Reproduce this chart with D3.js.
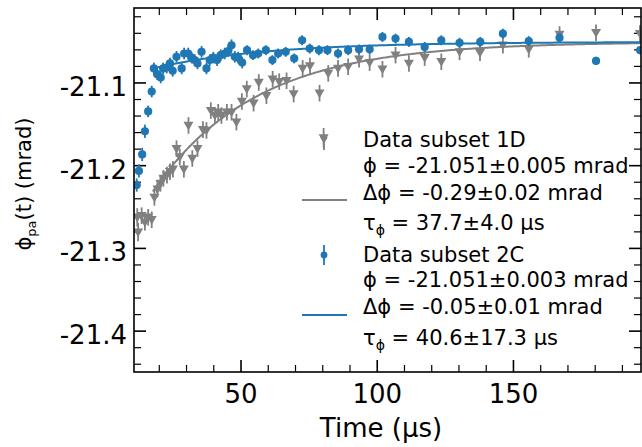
<!DOCTYPE html>
<html>
<head>
<meta charset="utf-8">
<script src="https://cdn.jsdelivr.net/npm/d3@7"></script>
<style>
  body { margin: 0; background: #fff; }
  svg { font-family: "DejaVu Sans", sans-serif; }
</style>
</head>
<body>
<div id="chart"></div>
<script>
// subset 1D (grey triangles)
var greyTime = [12.1, 12.4, 13.7, 14.9, 16.1, 17.4, 18.4, 19.5, 20.6, 21.7, 23.0, 24.1, 25.2,
  26.5, 27.7, 29.2, 30.9, 32.3, 34.2, 36.2, 37.5, 39.1, 40.6, 41.8, 43.0, 45.0, 46.7, 48.5,
  50.5, 52.3, 54.8, 56.7, 59.5, 61.8, 64.2, 66.9, 69.5, 72.8, 75.5, 79.0, 80.5, 82.2, 85.8,
  89.5, 93.5, 97.4, 102.1, 106.9, 111.8, 117.6, 123.7, 130.4, 137.9, 146.3, 155.8, 167.1,
  180.5, 196.6];
var greyPhase = [-21.263, -21.281, -21.261, -21.269, -21.263, -21.266, -21.239, -21.229,
  -21.222, -21.216, -21.212, -21.208, -21.205, -21.180, -21.190, -21.205, -21.152, -21.192,
  -21.180, -21.157, -21.158, -21.134, -21.140, -21.136, -21.140, -21.136, -21.136, -21.148,
  -21.123, -21.108, -21.125, -21.100, -21.116, -21.096, -21.099, -21.098, -21.114, -21.083,
  -21.080, -21.113, -21.167, -21.089, -21.083, -21.081, -21.072, -21.076, -21.084, -21.067,
  -21.077, -21.070, -21.075, -21.063, -21.064, -21.055, -21.060, -21.042, -21.040, -21.041];
var greyErr = [0.011, 0.011, 0.010, 0.010, 0.010, 0.010, 0.010, 0.010, 0.010, 0.010, 0.010,
  0.010, 0.010, 0.010, 0.010, 0.010, 0.010, 0.010, 0.010, 0.010, 0.010, 0.010, 0.010, 0.010,
  0.010, 0.010, 0.010, 0.010, 0.010, 0.010, 0.010, 0.010, 0.010, 0.010, 0.010, 0.010, 0.010,
  0.010, 0.010, 0.010, 0.012, 0.010, 0.010, 0.010, 0.010, 0.010, 0.010, 0.010, 0.010, 0.010,
  0.010, 0.010, 0.010, 0.010, 0.010, 0.010, 0.010, 0.010];

// subset 2C (blue circles)
var blueTime = [11.9, 12.7, 13.9, 14.9, 16.1, 17.4, 18.2, 19.4, 20.7, 21.6, 22.9, 24.1, 25.1,
  26.5, 28.4, 29.3, 30.8, 32.0, 33.2, 34.2, 35.7, 37.5, 38.7, 40.0, 41.4, 42.7, 44.2, 45.5,
  46.7, 47.9, 49.1, 50.6, 52.4, 54.6, 56.5, 59.3, 61.7, 63.8, 66.6, 69.7, 72.6, 75.4, 78.8,
  81.9, 85.8, 89.5, 93.5, 97.4, 102.1, 106.9, 111.8, 117.6, 123.7, 130.4, 138.0, 146.3,
  155.8, 167.1, 180.5, 196.7];
var bluePhase = [-21.224, -21.207, -21.187, -21.159, -21.135, -21.111, -21.083, -21.090,
  -21.094, -21.083, -21.082, -21.077, -21.086, -21.069, -21.083, -21.065, -21.065, -21.070,
  -21.073, -21.077, -21.063, -21.083, -21.073, -21.070, -21.073, -21.067, -21.065, -21.062,
  -21.055, -21.069, -21.070, -21.076, -21.061, -21.067, -21.065, -21.061, -21.073, -21.065,
  -21.063, -21.071, -21.049, -21.059, -21.061, -21.061, -21.065, -21.061, -21.060, -21.060,
  -21.045, -21.047, -21.051, -21.057, -21.049, -21.052, -21.051, -21.041, -21.050, -21.046,
  -21.074, -21.061];
var blueErr = [0.008, 0.008, 0.008, 0.008, 0.007, 0.007, 0.007, 0.007, 0.007, 0.007, 0.007,
  0.007, 0.007, 0.007, 0.007, 0.007, 0.007, 0.007, 0.007, 0.007, 0.007, 0.007, 0.007, 0.007,
  0.007, 0.007, 0.007, 0.007, 0.007, 0.007, 0.007, 0.007, 0.006, 0.006, 0.006, 0.006, 0.006,
  0.006, 0.006, 0.006, 0.006, 0.006, 0.006, 0.006, 0.006, 0.006, 0.006, 0.006, 0.006, 0.006,
  0.006, 0.006, 0.006, 0.006, 0.006, 0.006, 0.006, 0.006, 0.005, 0.005];

// fit parameters: phi, delta phi, tau, start time
var greyFit = [-21.051, -0.29, 37.7, 17.8];
var blueFit = [-21.051, -0.05, 40.6, 17.8];

var xTicks = [50, 100, 150];
var yTicks = [-21.4, -21.3, -21.2, -21.1];
var legendLines = [
  ["Data subset 1D"],
  ["ϕ = -21.051±0.005 mrad"],
  ["Δϕ = -0.29±0.02 mrad"],
  ["τ", "ϕ", " = 37.7±4.0 μs"],
  ["Data subset 2C"],
  ["ϕ = -21.051±0.003 mrad"],
  ["Δϕ = -0.05±0.01 mrad"],
  ["τ", "ϕ", " = 40.6±17.3 μs"]
];

var W = 642, H = 447;
var L = 134, R = 641, T = 8, B = 372;
var grey = "#808080", blue = "#1f77b4";

var svg = d3.select("#chart").append("svg")
    .attr("width", W)
    .attr("height", H);

var x = d3.scaleLinear().domain([10.9, 197]).range([L, R]);
var y = d3.scaleLinear().domain([-21.45, -21.01]).range([B, T]);

svg.append("clipPath").attr("id", "clip")
  .append("rect").attr("x", L).attr("y", T).attr("width", R - L).attr("height", B - T);

var xMinor = d3.range(20, 197, 10).filter(v => v % 50 !== 0);
var yMinor = d3.range(-21.44, -21.01, 0.02).map(v => +v.toFixed(2))
    .filter(v => yTicks.indexOf(v) < 0);

function tickStyle(g, big) {
  g.select(".domain").remove();
  g.selectAll(".tick line").attr("stroke", "#000").attr("stroke-width", big ? 1.6 : 1.2);
}

// bottom
svg.append("g").attr("transform", "translate(0," + B + ")")
  .call(d3.axisBottom(x).tickValues(xTicks).tickSizeInner(-12).tickSizeOuter(0).tickPadding(12.5))
  .call(g => tickStyle(g, true))
  .call(g => g.selectAll("text").attr("font-size", 26).attr("font-family", "DejaVu Sans").attr("fill", "#000"));
svg.append("g").attr("transform", "translate(0," + B + ")")
  .call(d3.axisBottom(x).tickValues(xMinor).tickFormat("").tickSizeInner(-7).tickSizeOuter(0))
  .call(g => tickStyle(g, false));
// top
svg.append("g").attr("transform", "translate(0," + T + ")")
  .call(d3.axisTop(x).tickValues(xTicks).tickFormat("").tickSizeInner(-12).tickSizeOuter(0))
  .call(g => tickStyle(g, true));
svg.append("g").attr("transform", "translate(0," + T + ")")
  .call(d3.axisTop(x).tickValues(xMinor).tickFormat("").tickSizeInner(-7).tickSizeOuter(0))
  .call(g => tickStyle(g, false));
// left
svg.append("g").attr("transform", "translate(" + L + ",0)")
  .call(d3.axisLeft(y).tickValues(yTicks).tickSizeInner(-12).tickSizeOuter(0).tickPadding(7))
  .call(g => tickStyle(g, true))
  .call(g => g.selectAll("text").attr("font-size", 26).attr("font-family", "DejaVu Sans")
    .attr("fill", "#000").attr("dy", "0.5em").text(d => d3.format(".1f")(d).replace("−", "-")));
svg.append("g").attr("transform", "translate(" + L + ",0)")
  .call(d3.axisLeft(y).tickValues(yMinor).tickFormat("").tickSizeInner(-7).tickSizeOuter(0))
  .call(g => tickStyle(g, false));
// right
svg.append("g").attr("transform", "translate(" + R + ",0)")
  .call(d3.axisRight(y).tickValues(yTicks).tickFormat("").tickSizeInner(-12).tickSizeOuter(0))
  .call(g => tickStyle(g, true));
svg.append("g").attr("transform", "translate(" + R + ",0)")
  .call(d3.axisRight(y).tickValues(yMinor).tickFormat("").tickSizeInner(-7).tickSizeOuter(0))
  .call(g => tickStyle(g, false));

var plot = svg.append("g").attr("clip-path", "url(#clip)");

function fitCurve(p) {
  var ts = d3.range(p[3], 197.5, 0.5);
  return ts.map(t => [t, p[0] + p[1] * Math.exp(-t / p[2])]);
}
var line = d3.line().x(d => x(d[0])).y(d => y(d[1]));

var tri = "M-5,-3.7L5,-3.7L0,5Z";

function drawSeries(times, vals, errs, color, marker) {
  var pts = times.map((t, i) => ({t: t, v: vals[i], e: errs[i]}));
  var g = plot.append("g");
  g.selectAll("line.err").data(pts).enter().append("line")
    .attr("x1", d => x(d.t)).attr("x2", d => x(d.t))
    .attr("y1", d => y(d.v - d.e)).attr("y2", d => y(d.v + d.e))
    .attr("stroke", color).attr("stroke-width", 1.8);
  if (marker === "tri") {
    g.selectAll("path.m").data(pts).enter().append("path")
      .attr("d", tri)
      .attr("transform", d => "translate(" + x(d.t) + "," + y(d.v) + ")")
      .attr("fill", color);
  } else {
    g.selectAll("circle.m").data(pts).enter().append("circle")
      .attr("cx", d => x(d.t)).attr("cy", d => y(d.v)).attr("r", 4.1)
      .attr("fill", color);
  }
}

drawSeries(greyTime, greyPhase, greyErr, grey, "tri");
plot.append("path").datum(fitCurve(greyFit)).attr("d", line)
  .attr("fill", "none").attr("stroke", grey).attr("stroke-width", 2);
drawSeries(blueTime, bluePhase, blueErr, blue, "circ");
plot.append("path").datum(fitCurve(blueFit)).attr("d", line)
  .attr("fill", "none").attr("stroke", blue).attr("stroke-width", 2);

// frame
svg.append("rect").attr("x", L).attr("y", T).attr("width", R - L).attr("height", B - T)
  .attr("fill", "none").attr("stroke", "#000").attr("stroke-width", 1.6);

// axis labels
svg.append("text").attr("x", 381).attr("y", 437).attr("text-anchor", "middle")
  .attr("font-size", 26).text("Time (μs)");
var yl = svg.append("text").attr("transform", "translate(31,184) rotate(-90)")
  .attr("text-anchor", "middle").attr("font-size", 21);
yl.append("tspan").text("ϕ");
yl.append("tspan").attr("font-size", 13).attr("dy", 5).text("pa");
yl.append("tspan").attr("dy", -5).text("(t) (mrad)");

// legend
var leg = svg.append("g");
var baselines = [147, 173, 200, 230, 262, 287, 314, 345];
legendLines.forEach(function (parts, i) {
  var t = leg.append("text").attr("x", 363).attr("y", baselines[i]).attr("font-size", 21);
  if (parts.length === 1) {
    t.text(parts[0]);
  } else {
    t.append("tspan").text(parts[0]);
    t.append("tspan").attr("font-size", 14).attr("dy", 5).text(parts[1]);
    t.append("tspan").attr("dy", -5).text(parts[2]);
  }
});
// legend handles
leg.append("line").attr("x1", 324).attr("x2", 324).attr("y1", 134).attr("y2", 150)
  .attr("stroke", grey).attr("stroke-width", 1.8);
leg.append("path").attr("d", "M-3.8,-2.8L3.8,-2.8L0,3.8Z")
  .attr("transform", "translate(324,140)").attr("fill", grey);
leg.append("line").attr("x1", 302).attr("x2", 347).attr("y1", 200).attr("y2", 200)
  .attr("stroke", grey).attr("stroke-width", 2);
leg.append("line").attr("x1", 324).attr("x2", 324).attr("y1", 245).attr("y2", 265)
  .attr("stroke", blue).attr("stroke-width", 1.8);
leg.append("circle").attr("cx", 324).attr("cy", 255).attr("r", 3.4).attr("fill", blue);
leg.append("line").attr("x1", 302).attr("x2", 347).attr("y1", 315).attr("y2", 315)
  .attr("stroke", blue).attr("stroke-width", 2);
</script>
</body>
</html>
